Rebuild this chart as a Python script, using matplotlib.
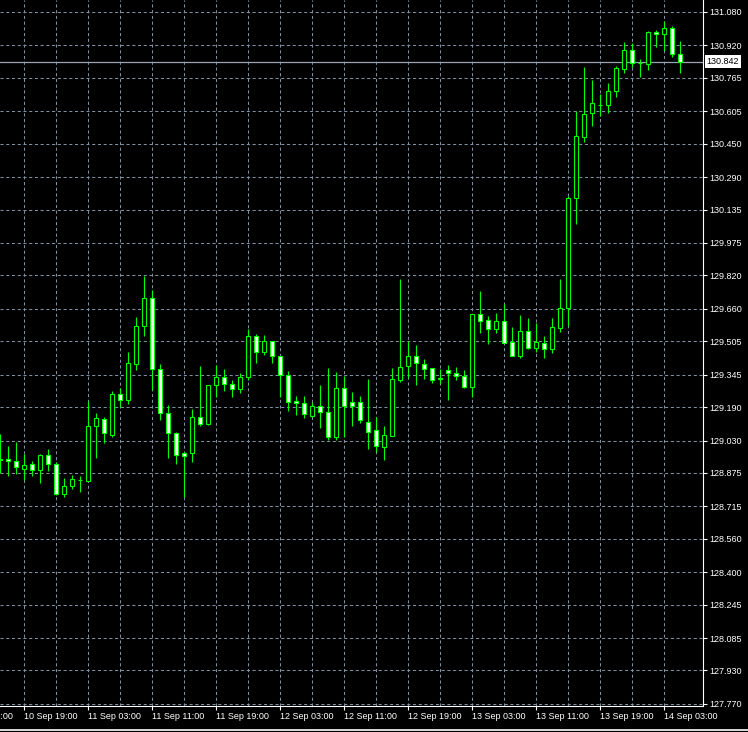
import numpy as np
import pandas as pd
import matplotlib
matplotlib.use("Agg")
import matplotlib.pyplot as plt
from matplotlib.patches import Rectangle
from matplotlib.lines import Line2D

# === DATA: H1 candles, 10 Sep 16:00 -> 14 Sep 05:00 ===
opens = [128.938, 128.942, 128.934, 128.895, 128.916, 128.888, 128.959, 128.916, 128.773, 128.811,
         128.840, 128.838, 129.098, 129.135, 129.058, 129.251, 129.223, 129.398, 129.577, 129.710,
         129.371, 129.160, 129.065, 128.969, 128.969, 129.141, 129.108, 129.294, 129.333, 129.299,
         129.275, 129.333, 129.530, 129.452, 129.505, 129.433, 129.342, 129.219, 129.208, 129.149,
         129.195, 129.168, 129.046, 129.280, 129.213, 129.213, 129.117, 129.079, 129.001, 129.053,
         129.321, 129.385, 129.433, 129.395, 129.376, 129.325, 129.366, 129.352, 129.339, 129.288,
         129.634, 129.607, 129.562, 129.602, 129.503, 129.436, 129.554, 129.474, 129.495, 129.468,
         129.570, 129.663, 130.189, 130.483, 130.595, 130.637, 130.634, 130.701, 130.809, 130.897,
         130.835, 130.830, 130.983, 130.973, 131.002, 130.878]
highs = [129.061, 129.004, 129.023, 128.964, 128.932, 128.966, 128.990, 128.929, 128.849, 128.865,
         128.859, 129.221, 129.160, 129.144, 129.267, 129.280, 129.452, 129.621, 129.817, 129.750,
         129.396, 129.200, 129.069, 128.977, 129.181, 129.387, 129.297, 129.391, 129.371, 129.320,
         129.352, 129.562, 129.540, 129.535, 129.505, 129.434, 129.363, 129.243, 129.243, 129.216,
         129.296, 129.378, 129.359, 129.339, 129.264, 129.243, 129.323, 129.141, 129.100, 129.376,
         129.803, 129.506, 129.487, 129.420, 129.376, 129.371, 129.391, 129.383, 129.368, 129.634,
         129.745, 129.626, 129.642, 129.683, 129.575, 129.631, 129.615, 129.591, 129.530, 129.615,
         129.803, 130.201, 130.606, 130.817, 130.755, 130.688, 130.739, 130.822, 130.936, 130.930,
         130.854, 130.991, 130.994, 131.037, 131.013, 130.941]
lows = [128.876, 128.862, 128.871, 128.840, 128.862, 128.825, 128.884, 128.770, 128.761, 128.798,
        128.785, 128.838, 128.948, 129.017, 129.048, 129.192, 129.205, 129.368, 129.532, 129.272,
        129.128, 128.948, 128.918, 128.760, 128.929, 129.100, 129.104, 129.240, 129.268, 129.240,
        129.259, 129.320, 129.400, 129.439, 129.400, 129.240, 129.173, 129.152, 129.139, 129.144,
        129.091, 129.033, 129.033, 129.048, 129.100, 129.112, 128.990, 128.975, 128.937, 129.053,
        129.312, 129.328, 129.296, 129.324, 129.307, 129.300, 129.224, 129.320, 129.280, 129.240,
        129.546, 129.492, 129.546, 129.498, 129.434, 129.426, 129.468, 129.455, 129.426, 129.447,
        129.551, 129.579, 130.064, 130.460, 130.536, 130.584, 130.595, 130.675, 130.790, 130.818,
        130.771, 130.803, 130.914, 130.895, 130.866, 130.790]
closes = [128.942, 128.934, 128.902, 128.912, 128.888, 128.959, 128.916, 128.773, 128.811, 128.845,
          128.841, 129.098, 129.136, 129.065, 129.251, 129.223, 129.400, 129.577, 129.710, 129.371,
          129.163, 129.065, 128.959, 128.958, 129.141, 129.108, 129.294, 129.334, 129.299, 129.275,
          129.333, 129.530, 129.452, 129.505, 129.433, 129.342, 129.213, 129.208, 129.156, 129.195,
          129.168, 129.046, 129.280, 129.197, 129.197, 129.128, 129.072, 129.004, 129.055, 129.323,
          129.380, 129.433, 129.400, 129.374, 129.318, 129.327, 129.352, 129.339, 129.288, 129.634,
          129.602, 129.562, 129.602, 129.498, 129.436, 129.554, 129.474, 129.500, 129.468, 129.572,
          129.663, 130.189, 130.487, 130.591, 130.643, 130.635, 130.701, 130.811, 130.897, 130.835,
          130.836, 130.983, 130.973, 131.002, 130.878, 130.842]

first_bar = "2017-09-10 16:00"
bid = 130.842

price_ticks = [131.080, 130.920, 130.765, 130.605, 130.450, 130.290, 130.135, 129.975,
               129.820, 129.660, 129.505, 129.345, 129.190, 129.030, 128.875, 128.715,
               128.560, 128.400, 128.245, 128.085, 127.930, 127.770]

# === STYLE ===
BG = "black"
CANDLE = "#00ff00"
GRID = "#7f8fa0"
TXT = "white"
plt.rcParams["font.family"] = ["Liberation Sans", "DejaVu Sans"]
plt.rcParams["font.size"] = 6.5

times = pd.date_range(first_bar, periods=len(opens), freq="h")
x = np.arange(len(opens))

fig = plt.figure(figsize=(7.48, 7.32), dpi=100, facecolor=BG)
ax = fig.add_axes([0, 1 - 706 / 732, 703 / 748, 706 / 732], facecolor=BG)

# grid
for p in price_ticks:
    ax.axhline(p, color=GRID, lw=0.75, ls=(0, (3, 2.5)), zorder=0)
for i, t in enumerate(times):
    if t.hour % 4 == 3:
        ax.axvline(i, color=GRID, lw=0.75, ls=(0, (3, 2.5)), zorder=0)

# bid line
ax.axhline(bid, color="#98a4b4", lw=0.9, zorder=1)

# candles
ax.vlines(x, lows, highs, color=CANDLE, lw=0.8, zorder=2)
body_w = 0.5
for i in range(len(opens)):
    o, c = opens[i], closes[i]
    lo, hi = min(o, c), max(o, c)
    h = max(hi - lo, 0.001)
    fc = BG if c > o else "white"
    ax.add_patch(Rectangle((i - body_w / 2, lo), body_w, h, facecolor=fc,
                           edgecolor=CANDLE, lw=0.8, zorder=3))

ax.set_xlim(0, 703 / 8)
ax.set_ylim(131.1374 - 0.0047836 * 706, 131.1374)

# axes look
for s in ["top", "left"]:
    ax.spines[s].set_visible(False)
for s in ["right", "bottom"]:
    ax.spines[s].set_color(TXT)
    ax.spines[s].set_linewidth(0.8)

ax.yaxis.tick_right()
ax.set_yticks(price_ticks)
ax.set_yticklabels([f"{p:.3f}" for p in price_ticks])
ax.tick_params(axis="y", colors=TXT, length=3, width=0.8, pad=1.5, labelsize=6.5)

lab_idx = [i for i, t in enumerate(times) if t.hour % 8 == 3]
ax.set_xticks(lab_idx)
ax.set_xticklabels([times[i].strftime("%d Sep %H:%M") for i in lab_idx], ha="left")
ax.tick_params(axis="x", colors=TXT, length=3, width=0.8, pad=1.0, labelsize=6.5)

# cut-off label on the far left
prev = times[0] - pd.Timedelta(hours=5)
ax.annotate(prev.strftime("%d Sep %H:%M"), xy=(-5, 0), xycoords=("data", "axes fraction"),
            xytext=(0, -4), textcoords="offset points", ha="left", va="top",
            color=TXT, fontsize=6.5, annotation_clip=False)

# bid label
ax.annotate(f"{bid:.3f}", xy=(1, bid), xycoords=("axes fraction", "data"),
            xytext=(2.5, 0), textcoords="offset points", ha="left", va="center",
            color="black", fontsize=6.5, annotation_clip=False,
            bbox=dict(boxstyle="square,pad=0.2", fc="white", ec="none"))

# window frame line at the bottom
fig.add_artist(Line2D([0, 1], [1 - 729.5 / 732] * 2, color=TXT, lw=1.2))

fig.savefig("out.png", dpi=100, facecolor=BG)
